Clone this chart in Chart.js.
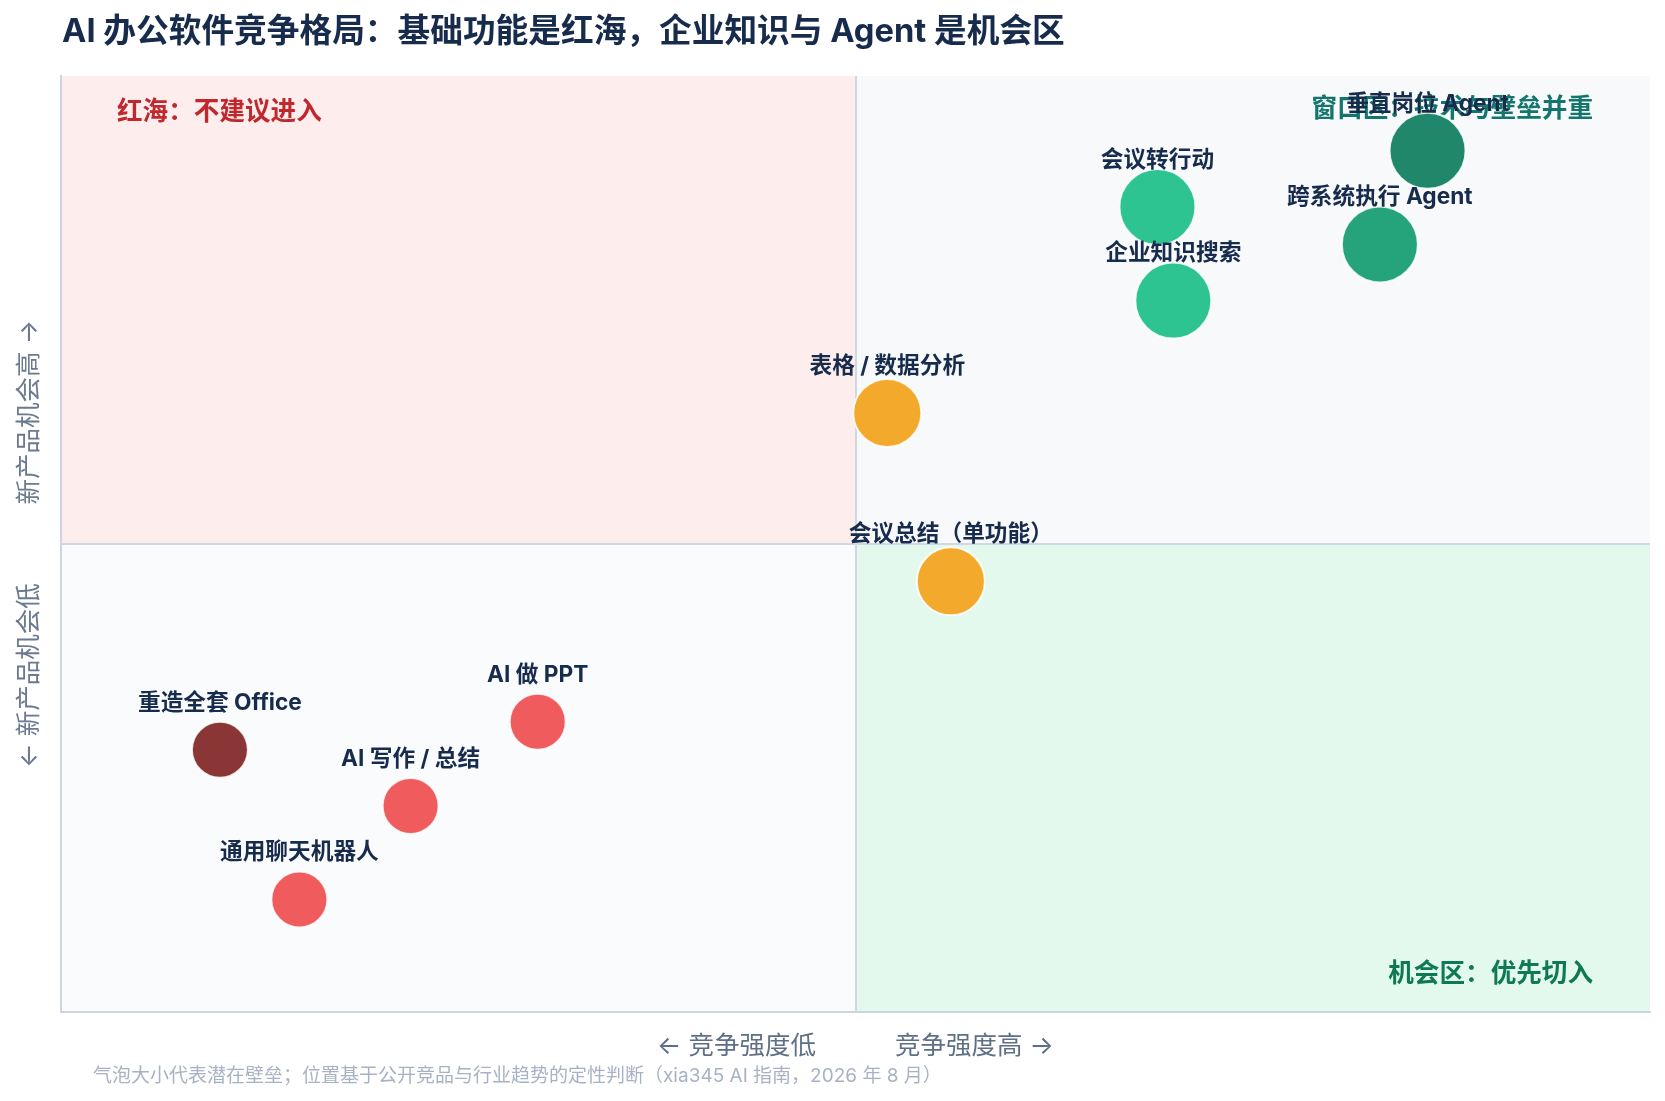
<!DOCTYPE html>
<html lang="zh-CN">
<head>
<meta charset="UTF-8">
<title>AI 办公软件竞争格局</title>
<script src="https://cdn.jsdelivr.net/npm/chart.js@4.4.1/dist/chart.umd.min.js"></script>
<style>
  html, body { margin: 0; padding: 0; background: #ffffff; }
  #wrap { width: 1665px; height: 1101px; }
</style>
</head>
<body>
<div id="wrap"><canvas id="quadChart" width="1665" height="1101"></canvas></div>
<script>
// data (x = 竞争强度, y = 新产品机会, moat = 潜在壁垒)
const products = ["垂直岗位 Agent", "会议转行动", "跨系统执行 Agent", "企业知识搜索", "表格 / 数据分析",
  "会议总结（单功能）", "AI 做 PPT", "重造全套 Office", "AI 写作 / 总结", "通用聊天机器人"];
const competition = [86, 69, 83, 70, 52, 56, 30, 10, 22, 15];
const opportunity = [92, 86, 82, 76, 64, 46, 31, 28, 22, 12];
const moat = [10, 10, 10, 10, 8, 8, 5, 5, 5, 5];

const titleText = "AI 办公软件竞争格局：基础功能是红海，企业知识与 Agent 是机会区";
const xAxisText = "← 竞争强度低           竞争强度高 →";
const yAxisText = "← 新产品机会低           新产品机会高 →";
const footText = "气泡大小代表潜在壁垒；位置基于公开竞品与行业趋势的定性判断（xia345 AI 指南，2026 年 8 月）";
const zoneLabels = {
  redSea: "红海：不建议进入",
  window: "窗口区：技术与壁垒并重",
  chance: "机会区：优先切入"
};

// styles
const pointColors = ["#21876a", "#2ec492", "#25a47b", "#2ec492", "#f3a92b",
  "#f3a92b", "#f05c5e", "#8a3636", "#f05c5e", "#f05c5e"];
const FONT = "Inter, 'Noto Sans CJK SC', sans-serif";
const NAVY = "#172b4d";

function moatRadius(m) {
  return 18 + 2 * m;
}

let points = products.map((name, i) => ({
  x: competition[i],
  y: opportunity[i],
  r: moatRadius(moat[i]),
  label: name
}));

// quadrant fills + zone labels + bubble labels + title
const quadrantPlugin = {
  id: "quadrants",
  beforeDraw(chart) {
    const { ctx, scales: { x, y } } = chart;
    const x0 = x.getPixelForValue(0), xm = x.getPixelForValue(50), x1 = x.getPixelForValue(100);
    const y0 = y.getPixelForValue(0), ym = y.getPixelForValue(50), y1 = y.getPixelForValue(100);
    ctx.save();
    ctx.fillStyle = "#fdeded"; ctx.fillRect(x0, y1, xm - x0, ym - y1);
    ctx.fillStyle = "#f7f9fb"; ctx.fillRect(xm, y1, x1 - xm, ym - y1);
    ctx.fillStyle = "#fafbfd"; ctx.fillRect(x0, ym, xm - x0, y0 - ym);
    ctx.fillStyle = "#e3f9ee"; ctx.fillRect(xm, ym, x1 - xm, y0 - ym);
    ctx.restore();
  },
  beforeDatasetsDraw(chart) {
    const { ctx, chartArea: a } = chart;
    ctx.save();
    ctx.font = "bold 25.6px " + FONT;
    ctx.textBaseline = "middle";
    ctx.textAlign = "left";
    ctx.fillStyle = "#c0282d";
    ctx.fillText(zoneLabels.redSea, a.left + 56, a.top + 36);
    ctx.textAlign = "right";
    ctx.fillStyle = "#13766c";
    ctx.fillText(zoneLabels.window, a.right - 57, a.top + 33);
    ctx.fillStyle = "#0e7a55";
    ctx.fillText(zoneLabels.chance, a.right - 57, a.bottom - 38);
    ctx.restore();
  },
  afterDatasetsDraw(chart) {
    const { ctx } = chart;
    const meta = chart.getDatasetMeta(0);
    ctx.save();
    ctx.font = "bold 22.7px " + FONT;
    ctx.textAlign = "center";
    ctx.textBaseline = "middle";
    ctx.fillStyle = NAVY;
    meta.data.forEach((el, i) => {
      ctx.fillText(products[i], el.x, el.y - 47);
    });
    ctx.restore();
  },
  afterDraw(chart) {
    const { ctx } = chart;
    ctx.save();
    ctx.textBaseline = "middle";
    ctx.textAlign = "left";
    ctx.fillStyle = NAVY;
    ctx.font = "bold 32.7px " + FONT;
    ctx.fillText(titleText, 62, 32);
    ctx.fillStyle = "#a7b3c4";
    ctx.font = "19px " + FONT;
    ctx.fillText(footText, 93, 1076);
    ctx.restore();
  }
};

const ctx = document.getElementById("quadChart").getContext("2d");
let chartInstance = new Chart(ctx, {
  type: "bubble",
  data: {
    datasets: [{
      label: "产品方向",
      data: points,
      backgroundColor: pointColors,
      borderColor: "rgba(255,255,255,0.85)",
      borderWidth: 2,
      hoverBorderWidth: 2
    }]
  },
  options: {
    responsive: false,
    animation: false,
    events: [],
    layout: { autoPadding: false, padding: { left: 0, top: 76, right: 15, bottom: 29.6 } },
    plugins: {
      legend: { display: false },
      tooltip: { enabled: false },
      title: { display: false }
    },
    scales: {
      x: {
        type: "linear",
        min: 0,
        max: 100,
        ticks: { display: false, stepSize: 50 },
        grid: {
          drawTicks: false,
          lineWidth: 2,
          color: c => (c.tick && c.tick.value === 50 ? "#cfd8e3" : "transparent")
        },
        border: { display: true, color: "#cdd5e1", width: 2 },
        title: {
          display: true,
          text: xAxisText,
          color: "#5f6f86",
          font: { family: FONT, size: 25.5 },
          padding: { top: 19, bottom: 10 }
        }
      },
      y: {
        type: "linear",
        min: 0,
        max: 100,
        ticks: { display: false, stepSize: 50 },
        grid: {
          drawTicks: false,
          lineWidth: 2,
          color: c => (c.tick && c.tick.value === 50 ? "#cfd8e3" : "transparent")
        },
        border: { display: true, color: "#cdd5e1", width: 2 },
        title: {
          display: true,
          text: yAxisText,
          color: "#6b7a90",
          font: { family: FONT, size: 25.5 },
          padding: { top: 13.7, bottom: 16.7 }
        }
      }
    }
  },
  plugins: [quadrantPlugin]
});
</script>
</body>
</html>
